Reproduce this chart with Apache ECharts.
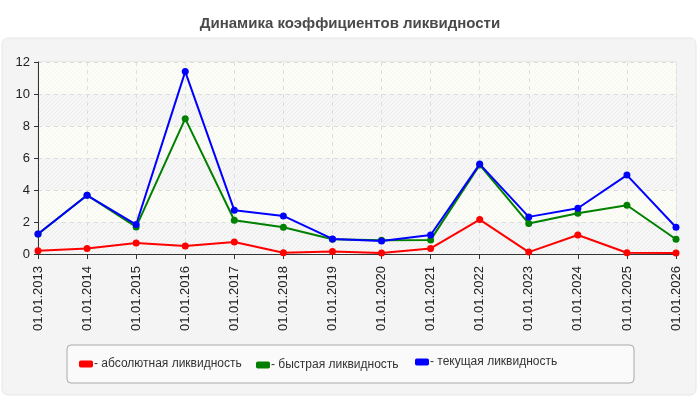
<!DOCTYPE html>
<html>
<head>
<meta charset="utf-8">
<script src="https://cdn.jsdelivr.net/npm/echarts@6/dist/echarts.min.js"></script>
<style>
  html, body { margin: 0; padding: 0; background: #fff; }
  #main { width: 700px; height: 400px; }
</style>
</head>
<body>
<div id="main"></div>
<script>
const dates = ['01.01.2013', '01.01.2014', '01.01.2015', '01.01.2016', '01.01.2017', '01.01.2018', '01.01.2019',
  '01.01.2020', '01.01.2021', '01.01.2022', '01.01.2023', '01.01.2024', '01.01.2025', '01.01.2026'];
const absolute = [0.21, 0.35, 0.69, 0.50, 0.75, 0.08, 0.15, 0.06, 0.35, 2.15, 0.12, 1.19, 0.08, 0.06];
const quick = [1.25, 3.67, 1.69, 8.46, 2.11, 1.67, 0.92, 0.86, 0.88, 5.57, 1.90, 2.55, 3.05, 0.92];
const current = [1.25, 3.67, 1.84, 11.40, 2.73, 2.38, 0.94, 0.81, 1.19, 5.62, 2.32, 2.86, 4.93, 1.67];
const names = ['- абсолютная ликвидность', '- быстрая ликвидность', '- текущая ликвидность'];
const colors = ['#ff0000', '#008000', '#0000ff'];

// hatch patterns for the plot bands
function hatch(bg, line) {
  const c = document.createElement('canvas');
  c.width = 4; c.height = 4;
  const g = c.getContext('2d');
  g.fillStyle = bg;
  g.fillRect(0, 0, 4, 4);
  g.strokeStyle = line;
  g.lineWidth = 1;
  g.beginPath();
  g.moveTo(-1, 5); g.lineTo(5, -1);
  g.stroke();
  return { image: c, repeat: 'repeat' };
}
const bandGray = hatch('#f7f7f7', '#ebebeb');
const bandLight = hatch('#fdfdf8', '#f5f6ef');

const chart = echarts.init(document.getElementById('main'));

const mkSeries = (data, i) => ({
  name: names[i],
  type: 'line',
  data: data,
  z: 3 + i,
  symbol: 'circle',
  symbolSize: 7,
  lineStyle: { color: colors[i], width: 2 },
  itemStyle: { color: colors[i] },
  emphasis: { disabled: true },
  animation: false
});

const legendPos = [[74, 353], [251, 354], [410, 351]];
const mkLegend = (i) => ({
  data: [names[i]],
  left: legendPos[i][0],
  top: legendPos[i][1],
  itemWidth: 14,
  itemHeight: 7,
  icon: 'roundRect',
  textStyle: { fontSize: 12, color: '#333', padding: [0, 0, 0, -4] }
});

chart.setOption({
  animation: false,
  textStyle: { fontFamily: 'Liberation Sans, Arial, sans-serif' },
  title: {
    text: 'Динамика коэффициентов ликвидности',
    left: 'center',
    top: 11,
    textStyle: { fontSize: 15, fontWeight: 'bold', color: '#4a4a4a' }
  },
  graphic: [
    {
      type: 'rect', z: -10,
      shape: { x: 2, y: 38, width: 694, height: 357, r: 6 },
      style: { fill: '#f4f4f4', stroke: '#e6e6e6' }
    },
    {
      type: 'rect', z: -8,
      shape: { x: 67, y: 345, width: 567, height: 38, r: 4 },
      style: { fill: '#fafafa', stroke: '#aaa' }
    }
  ],
  legend: [mkLegend(0), mkLegend(1), mkLegend(2)],
  grid: {
    left: 38, right: 24, top: 62, bottom: 146,
    show: true, borderColor: '#ddd', borderWidth: 1, backgroundColor: 'transparent'
  },
  xAxis: {
    type: 'category',
    data: dates,
    boundaryGap: false,
    axisLine: { lineStyle: { color: '#333', width: 1 } },
    axisTick: { show: true, length: 5, alignWithLabel: true, lineStyle: { color: '#333' } },
    axisLabel: { rotate: 90, fontSize: 13, color: '#222', margin: 12, interval: 0 },
    splitLine: { show: true, lineStyle: { color: '#ddd', type: [4, 4] } }
  },
  yAxis: {
    type: 'value',
    min: 0, max: 12, interval: 2,
    axisLine: { show: true, lineStyle: { color: '#333', width: 1 } },
    axisTick: { show: true, length: 4, lineStyle: { color: '#333' } },
    axisLabel: { fontSize: 13, color: '#222', margin: 8 },
    splitLine: { show: true, lineStyle: { color: '#ddd', type: [4, 4] } },
    splitArea: { show: true, areaStyle: { color: [bandGray, bandLight] } }
  },
  series: [mkSeries(absolute, 0), mkSeries(quick, 1), mkSeries(current, 2)]
});
</script>
</body>
</html>
